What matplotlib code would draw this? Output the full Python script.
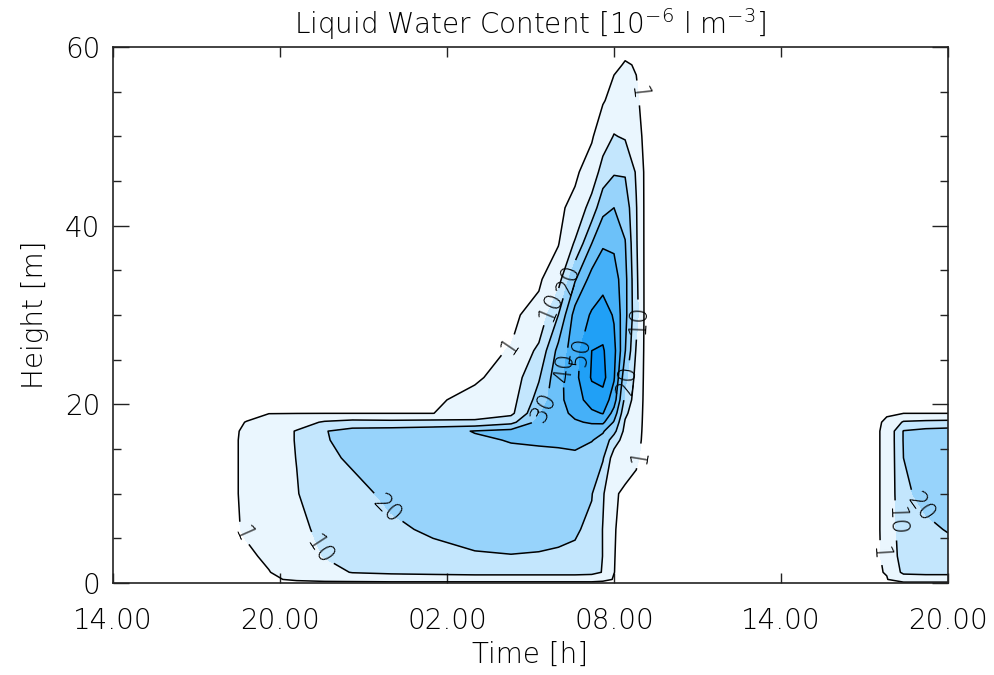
import numpy as np
import matplotlib
matplotlib.use('Agg')
import matplotlib.pyplot as plt
from matplotlib.ticker import MultipleLocator

plt.rcParams.update({
    'font.family': 'DejaVu Sans',
    'font.weight': 'light',
    'font.size': 20,
    'mathtext.default': 'regular',
})

# --- Data: time in hours since 00:00 of day 1, height in m ---
TIME_H = [14, 18, 18.8, 19.6, 20.6, 21.6, 22.6, 24, 25.5, 27, 28.3, 29.3, 30, 30.6,
          31.2, 31.6, 32, 32.4, 32.8, 33.1, 41, 41.8, 42.4, 43.2, 44]
HEIGHT_M = [0, 0.4, 1.2, 3, 6, 10, 14, 16, 17, 18, 19, 20.5, 23, 26, 30, 34, 38,
            42, 46, 50, 54, 58, 60]

# one vertical LWC profile (10^-6 l m^-3) per entry of TIME_H
LWC = [
    [0] * 23,
    [0] * 23,
    [0, 0, 0, 0.5, 1.4, 1.6, 1.6, 1.6, 1.5, 1.1, 0.2, 0] + [0] * 11,
    [0, 0.5, 0.9, 1.5, 3, 4, 5, 5, 5, 3, 0.9, 0] + [0] * 11,
    [0, 1.5, 2.5, 4, 7, 9.5, 10.2, 10.5, 10.5, 6, 0.9, 0] + [0] * 11,
    [0, 2.2, 6, 10.5, 13, 16, 18.5, 19.5, 19.5, 11, 0.9, 0] + [0] * 11,
    [0, 2.5, 10.5, 13, 15.5, 18, 21, 22, 23.5, 13, 0.9, 0] + [0] * 11,
    [0, 3, 12, 16, 18.8, 21.5, 24, 25, 24.5, 12.5, 0.9, 0] + [0] * 11,
    [0, 3, 13, 18, 21, 24, 26, 27, 26, 13, 0.9, 0] + [0] * 11,
    [0, 3, 14, 19.5, 22, 25, 27, 28.5, 30.5, 12, 5, 3, 0] + [0] * 10,
    [0, 3, 14, 19.8, 22.5, 25.5, 27.5, 30.5, 33, 17, 7.5, 6, 4, 1.2, 0] + [0] * 8,
    [0, 3, 14, 19.5, 22.5, 25.5, 28, 31, 34, 33, 29, 24, 19, 12, 3, 0] + [0] * 7,
    [0, 3, 14, 19, 22, 25, 28, 31.5, 34, 36, 37, 37.5, 37, 33, 20, 6, 0.6, 0] + [0] * 5,
    [0, 3, 14, 18.5, 21, 24, 28.5, 32, 35, 39, 42, 45, 47, 46, 44, 29, 11, 2.5, 0] + [0] * 4,
    [0, 3, 13, 16, 18, 20.5, 25, 30.5, 35, 41, 48, 55, 61, 60, 51, 44, 30, 14, 4, 0.3, 0, 0, 0],
    [0, 2, 9.5, 9.8, 9.7, 11, 21, 27, 31, 42, 50.5, 56, 63, 61, 55, 46, 39, 27, 14, 5, 0.5, 0, 0],
    [0, 0.8, 1.05, 1.1, 1.2, 1.5, 5, 15, 23, 29, 36, 45, 51, 53, 49, 45, 38, 30, 19, 10.5, 3, 0.2, 0],
    [0, 0, 0, 0, 0, 0.3, 3, 5.5, 7, 9, 12, 17, 23, 30.5, 33, 33, 30.5, 26, 19, 9, 3.5, 1.3, 0],
    [0, 0, 0, 0, 0, 0, 1.5, 2.5, 3, 3.5, 4, 5, 6.5, 9, 13, 12, 11, 10.5, 9, 3, 1.5, 0.8, 0],
    [0] * 23,
    [0] * 23,
    [0, 0.8, 1.2, 1.4, 1.45, 1.45, 1.45, 1.45, 1.45, 1.3, 0.8, 0] + [0] * 11,
    [0, 4, 12, 15, 17, 19, 20, 20.5, 20.5, 11, 0.9, 0] + [0] * 11,
    [0, 4, 13, 17, 19, 21.5, 23, 23.5, 23, 12, 0.9, 0] + [0] * 11,
    [0, 4, 13, 18, 20.3, 22.5, 24, 24.5, 24, 12.5, 0.9, 0] + [0] * 11,
]

LEVELS = [1, 10, 20, 30, 40, 50, 60]
XTICK_POS = [14, 20, 26, 32, 38, 44]
XTICK_LABELS = ['14.00', '20.00', '02.00', '08.00', '14.00', '20.00']

FILL_COLORS = ['#eaf6fe', '#c3e6fd', '#97d3fb', '#6cc1f9', '#45b0f8', '#20a0f6', '#0690f4']

z = np.array(LWC, dtype=float).T

fig = plt.figure(figsize=(9.95, 6.75), dpi=100)
ax = fig.add_axes([113 / 995, 1 - 583 / 675, (948 - 113) / 995, (583 - 47) / 675])

ax.contourf(TIME_H, HEIGHT_M, z, levels=LEVELS + [1000], colors=FILL_COLORS)
cs = ax.contour(TIME_H, HEIGHT_M, z, levels=LEVELS, colors='black', linewidths=1.1)

# label spots, roughly where the original put them
spots = [(18.7, 5.6), (21.6, 3.9), (23.8, 8.2),
         (28.3, 26.4), (29.7, 31), (30.4, 34), (29.45, 19.7), (30.06, 24.2), (30.7, 26),
         (32.8, 29.5), (32.45, 22.7), (32.7, 14.3), (33.0, 54.9),
         (41.7, 3.4), (42.1, 7), (43.3, 9)]
ax.clabel(cs, fmt='%d', fontsize=17, inline=True, manual=spots)

ax.set_xlim(14, 44)
ax.set_ylim(0, 60)
ax.set_xticks(XTICK_POS, XTICK_LABELS)
ax.set_yticks([0, 20, 40, 60])
ax.yaxis.set_minor_locator(MultipleLocator(5))
ax.tick_params(which='both', direction='in', top=True, right=True, width=1, color='#222222')
ax.tick_params(axis='x', which='major', length=7.2, pad=17)
ax.tick_params(axis='y', which='major', length=11.5, pad=9)
ax.tick_params(axis='y', which='minor', length=5.8)
for s in ax.spines.values():
    s.set_linewidth(1.2)
    s.set_color('#222222')

fig.text(530 / 995, 1 - 24 / 675, 'Liquid Water Content [10$^{-6}$ l m$^{-3}$]',
         ha='center', va='center')
fig.text(530 / 995, 1 - 655 / 675, 'Time [h]', ha='center', va='center')
fig.text(35 / 995, 1 - 315 / 675, 'Height [m]', rotation=90, ha='center', va='center')

fig.savefig('out.png', dpi=100)
